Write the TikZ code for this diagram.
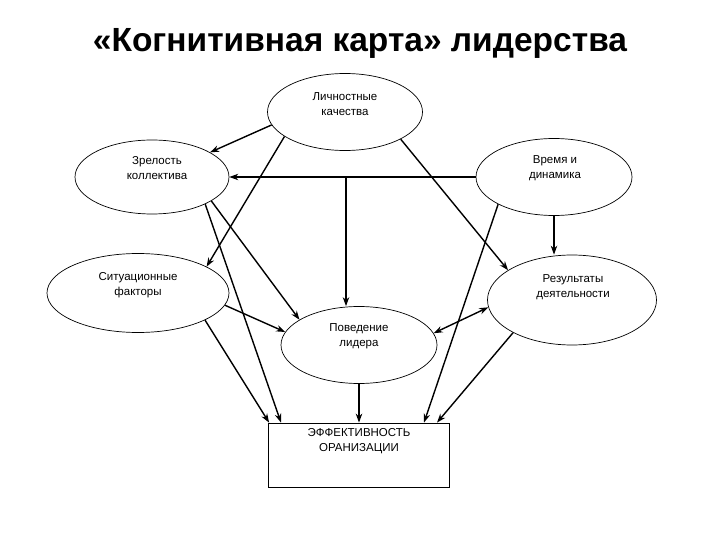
\documentclass[tikz,border=0pt]{standalone}
\usepackage{fontspec}
\setmainfont{Liberation Sans}
\usetikzlibrary{shapes.geometric,arrows.meta,calc}
\tikzset{
  ell/.style={draw, ellipse, line width=0.7pt, inner sep=0pt},
  txt/.style={align=center, font=\fontsize{11.5}{15}\selectfont, inner sep=0pt},
  arr/.style={line width=1.4pt, -{Stealth[length=9pt,width=6.5pt]}},
  darr/.style={line width=1.4pt, {Stealth[length=9pt,width=6.5pt]}-{Stealth[length=9pt,width=6.5pt]}}
}
\begin{document}
\begin{tikzpicture}[x=1pt,y=-1pt]
\useasboundingbox (0,0) rectangle (720,540);
% title
\node[anchor=base, font=\bfseries\fontsize{33.5}{38}\selectfont, inner sep=0pt] (title) at (360,52) {«Когнитивная карта» лидерства};
% ellipses
\node[ell, minimum width=155, minimum height=77] (L) at (345,112) {};
\node[txt] (Lt) at (345,104) {Личностные\\качества};
\node[ell, minimum width=154, minimum height=74] (Z) at (152,177) {};
\node[txt] (Zt) at (157,168) {Зрелость\\коллектива};
\node[ell, minimum width=156, minimum height=77] (V) at (554,177) {};
\node[txt] (Vt) at (555,168) {Время и\\динамика};
\node[ell, minimum width=182, minimum height=79] (S) at (138,293) {};
\node[txt] (St) at (138,285) {Ситуационные\\факторы};
\node[ell, minimum width=169, minimum height=90] (R) at (572,300) {};
\node[txt] (Rt) at (573,287) {Результаты\\деятельности};
\node[ell, minimum width=156, minimum height=77] (P) at (359,345) {};
\node[txt] (Pt) at (359,336) {Поведение\\лидера};
% rectangle
\node[draw, line width=0.8pt, minimum width=181, minimum height=64, inner sep=0pt] (E) at (359,455) {};
\node[txt] (Et) at (359,441) {ЭФФЕКТИВНОСТЬ\\ОРАНИЗАЦИИ};
% connectors
\draw[arr] (L.190) -- (Z.23);
\draw[arr] (V.west) -- (Z.east);
\coordinate (J) at (346,177);
\draw[arr] (J) -- (J |- P.north);
\draw[arr] (L.202) -- (S.21);
\draw[arr] (L.334) -- (R.155);
\draw[arr] (V.south) -- (V.south |- R.north);
\draw[arr] (V.206) -- ([xshift=65pt]E.north);
\draw[arr] (Z.333) -- ([xshift=-78pt]E.north);
\draw[arr] (Z.338) -- (P.157);
\draw[arr] (S.352) -- (P.170);
\draw[darr] (P.9) -- (R.185);
\draw[arr] (R.209) -- ([xshift=78pt]E.north);
\draw[arr] (P.south) -- (E.north);
\draw[arr] (S.338) -- ([xshift=1pt]E.north west);
\end{tikzpicture}
\end{document}
